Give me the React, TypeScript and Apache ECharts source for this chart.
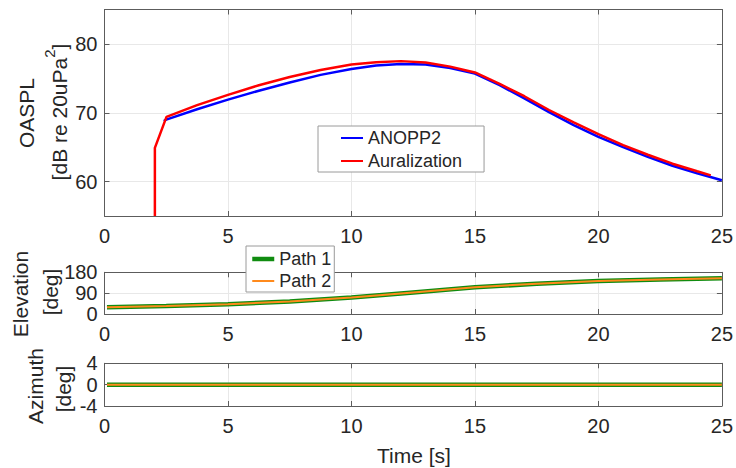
import React, { useEffect, useRef } from "react";
import * as echarts from "echarts";

// OASPL time histories
const anoppTime = [2.4, 2.5, 3.75, 5, 6.25, 7.5, 8.75, 10, 11, 12, 13, 14, 15, 16, 17, 18, 19, 20, 21, 22, 23, 24, 25];
const anoppLevel = [68.8, 69.0, 70.5, 71.9, 73.2, 74.4, 75.5, 76.35, 76.85, 77.1, 77.0, 76.5, 75.7, 74.0, 72.1, 70.1, 68.2, 66.5, 65.0, 63.6, 62.3, 61.2, 60.2];

const auralTime = [2.04, 2.04, 2.51, 3.75, 5, 6.25, 7.5, 8.75, 10, 11, 12, 13, 14, 15, 16, 17, 18, 19, 20, 21, 22, 23, 24, 24.55];
const auralLevel = [55, 64.9, 69.4, 71.1, 72.6, 74.0, 75.2, 76.2, 77.0, 77.35, 77.5, 77.3, 76.7, 75.85, 74.2, 72.4, 70.4, 68.6, 66.9, 65.3, 63.9, 62.6, 61.5, 60.9];

// Source elevation / azimuth along each propagation path
const pathTime = [0.1, 2.5, 5, 7.5, 10, 12.5, 15, 17.5, 20, 22.5, 25];
const path1Elevation = [29, 34, 42, 54, 71, 93, 115, 131, 142, 149, 154];
const path2Elevation = [29, 34, 42, 54, 71, 93, 115, 131, 142, 149, 154];
const path1Azimuth = [0, 0, 0, 0, 0, 0, 0, 0, 0, 0, 0];
const path2Azimuth = [0, 0, 0, 0, 0, 0, 0, 0, 0, 0, 0];

// Tick values
const timeTicks = { min: 0, max: 25, interval: 5 };
const oasplTicks = [60, 70, 80];
const elevationTicks = { min: 0, max: 180, interval: 90 };
const azimuthTicks = { min: -4, max: 4, interval: 4 };

const FONT = "'Liberation Sans', Arial, Helvetica, sans-serif";
const AXIS = "#5c5c5c";
const TEXT = "#262626";
const GRID = "#e8e8e8";
const GREEN = "#108c10";
const ORANGE = "#ff8a1c";

const pairs = (xs: number[], ys: number[]) => xs.map((x, i) => [x, ys[i]]);

const grids = [
  { left: 104.5, top: 9.5, width: 618, height: 206.5 },
  { left: 104.5, top: 272.3, width: 618, height: 41.7 },
  { left: 104.5, top: 363.3, width: 618, height: 42.7 },
];

function xAxes(gridIndex: number) {
  const common = {
    type: "value",
    gridIndex,
    min: timeTicks.min,
    max: timeTicks.max,
    interval: timeTicks.interval,
    axisLine: { show: true, onZero: false, lineStyle: { color: AXIS, width: 1 } },
    axisTick: { show: true, inside: true, length: 5, lineStyle: { color: AXIS } },
  };
  return [
    {
      ...common,
      position: "bottom",
      axisLabel: { show: true, margin: 10, fontSize: 20, color: TEXT, fontFamily: FONT },
      splitLine: { show: true, lineStyle: { color: GRID, width: 1 } },
    },
    {
      ...common,
      position: "top",
      axisLabel: { show: false },
      splitLine: { show: false },
    },
  ];
}

function yAxes(gridIndex: number, range: any, custom?: number[]) {
  const common: any = {
    type: "value",
    gridIndex,
    min: range.min,
    max: range.max,
    axisLine: { show: true, onZero: false, lineStyle: { color: AXIS, width: 1 } },
    axisTick: { show: true, inside: true, length: 5, lineStyle: { color: AXIS } },
  };
  if (custom) {
    common.axisTick.customValues = custom;
  } else {
    common.interval = range.interval;
  }
  const label: any = { show: true, margin: 7, fontSize: 20, color: TEXT, fontFamily: FONT };
  if (custom) label.customValues = custom;
  return [
    {
      ...common,
      position: "left",
      axisLabel: label,
      splitLine: { show: true, lineStyle: { color: GRID, width: 1 } },
    },
    {
      ...common,
      position: "right",
      axisLabel: { show: false },
      splitLine: { show: false },
    },
  ];
}

const lineSeries = (name: string, xIdx: number, yIdx: number, data: number[][], color: string, width: number) => ({
  name,
  type: "line",
  xAxisIndex: xIdx,
  yAxisIndex: yIdx,
  data,
  symbol: "none",
  smooth: false,
  lineStyle: { color, width },
  itemStyle: { color },
});

const rotated = (text: string, x: number, y: number, rich?: any) => ({
  type: "text",
  x,
  y,
  rotation: Math.PI / 2,
  style: {
    text,
    fontSize: 21,
    fontFamily: FONT,
    fill: TEXT,
    align: "center",
    verticalAlign: "middle",
    ...(rich ? { rich } : {}),
  },
});

const legendBase = {
  orient: "vertical",
  itemWidth: 22,
  itemHeight: 14,
  backgroundColor: "#ffffff",
  borderColor: "#9a9a9a",
  borderWidth: 1,
  selectedMode: false,
  itemStyle: { opacity: 0 },
  textStyle: { fontSize: 18, color: TEXT, fontFamily: FONT },
};

export default function App() {
  const ref = useRef<HTMLDivElement>(null);

  useEffect(() => {
    if (!ref.current) return;
    const chart = echarts.init(ref.current, undefined, { renderer: "svg" });
    chart.setOption({
      animation: false,
      backgroundColor: "#ffffff",
      grid: grids,
      xAxis: [...xAxes(0), ...xAxes(1), ...xAxes(2)],
      yAxis: [
        ...yAxes(0, { min: 55, max: 85 }, oasplTicks),
        ...yAxes(1, elevationTicks),
        ...yAxes(2, azimuthTicks),
      ],
      legend: [
        {
          ...legendBase,
          data: ["ANOPP2", "Auralization"],
          left: 318,
          top: 126,
          padding: [3, 22, 2, 22],
          itemGap: 5,
        },
        {
          ...legendBase,
          data: [
            { name: "Path 1", lineStyle: { width: 4.5 } },
            { name: "Path 2", lineStyle: { width: 2 } },
          ],
          left: 246,
          top: 246,
          padding: [4, 3, 2, 4],
          itemGap: 4,
        },
      ],
      series: [
        lineSeries("ANOPP2", 0, 0, pairs(anoppTime, anoppLevel), "#0000ff", 2.5),
        lineSeries("Auralization", 0, 0, pairs(auralTime, auralLevel), "#ff0000", 2.5),
        lineSeries("Path 1", 2, 2, pairs(pathTime, path1Elevation), GREEN, 4.5),
        lineSeries("Path 2", 2, 2, pairs(pathTime, path2Elevation), ORANGE, 2),
        lineSeries("Path 1", 4, 4, pairs(pathTime, path1Azimuth), GREEN, 4.5),
        lineSeries("Path 2", 4, 4, pairs(pathTime, path2Azimuth), ORANGE, 2),
      ],
      graphic: [
        rotated("OASPL", 26, 113),
        rotated("{n|[dB re 20uPa}{sup|2}{n|]}", 59, 112, {
          n: { fontSize: 21, fontFamily: FONT, fill: TEXT, lineHeight: 34 },
          sup: { fontSize: 15, fontFamily: FONT, fill: TEXT, verticalAlign: "top", lineHeight: 15 },
        }),
        rotated("Elevation", 20, 294),
        rotated("[deg]", 50, 292),
        rotated("Azimuth", 35, 386),
        rotated("[deg]", 63, 389),
        {
          type: "text",
          x: 414,
          y: 455,
          style: {
            text: "Time [s]",
            fontSize: 21,
            fontFamily: FONT,
            fill: TEXT,
            align: "center",
            verticalAlign: "middle",
          },
        },
      ],
    });
    return () => chart.dispose();
  }, []);

  return (
    <div
      ref={ref}
      style={{ position: "fixed", left: 0, top: 0, width: 736, height: 468 }}
    />
  );
}
